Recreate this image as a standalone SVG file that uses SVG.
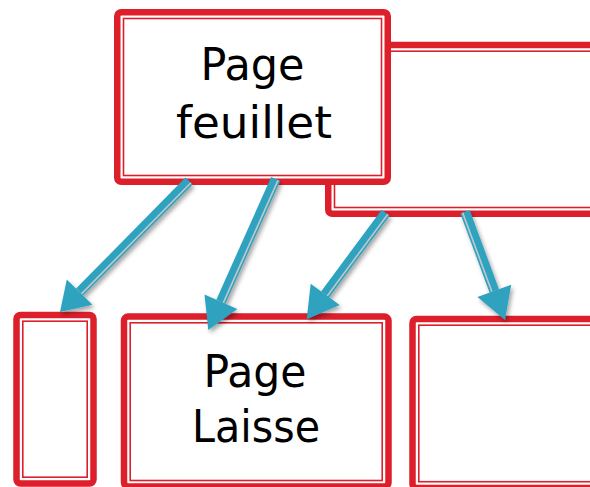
<svg xmlns="http://www.w3.org/2000/svg" width="590" height="487" viewBox="0 0 590 487">
<defs>
<style>
.outer{fill:#fff;stroke:#DC1F2B;stroke-width:6.5}
.inner{fill:none;stroke:#DC1F2B;stroke-width:1.6}
.shaft{stroke:#2DA2BF;stroke-width:10;fill:none}
.stripe{stroke:#C4C7C8;stroke-width:1.6;fill:none}
.head{fill:#2DA2BF}
.lbl{font-family:"DejaVu Sans","Liberation Sans",sans-serif;font-size:45px;fill:#000;text-anchor:middle}
</style>
<filter id="sh" x="-30%" y="-30%" width="160%" height="160%">
<feDropShadow dx="2" dy="3" stdDeviation="2" flood-color="#000" flood-opacity="0.35"/>
</filter>
</defs>
<rect width="590" height="487" fill="#fff"/>
<g id="node-back">
<rect class="outer" x="328.25" y="45" width="300" height="168.75" rx="4"/>
<rect class="inner" x="334.5" y="51.2" width="290" height="156.3"/>
</g>
<g id="node-feuillet">
<rect class="outer" x="117.25" y="12.25" width="270.5" height="169.5" rx="4"/>
<rect class="inner" x="123.5" y="18.5" width="258" height="157"/>
<text class="lbl" x="252.5" y="80" textLength="104" lengthAdjust="spacingAndGlyphs">Page</text>
<text class="lbl" x="254" y="138" textLength="156" lengthAdjust="spacingAndGlyphs">feuillet</text>
</g>
<g id="node-left">
<rect class="outer" x="16.5" y="315" width="77" height="168.5" rx="4"/>
<rect class="inner" x="22.8" y="321.2" width="64.4" height="156"/>
</g>
<g id="node-laisse">
<rect class="outer" x="124" y="316.6" width="264.5" height="170" rx="4"/>
<rect class="inner" x="130.2" y="322.8" width="252" height="157.7"/>
<text class="lbl" x="255" y="386.7" textLength="103" lengthAdjust="spacingAndGlyphs">Page</text>
<text class="lbl" x="256" y="441.7" textLength="128" lengthAdjust="spacingAndGlyphs">Laisse</text>
</g>
<g id="node-right">
<rect class="outer" x="412.5" y="319" width="300" height="169" rx="4"/>
<rect class="inner" x="418.8" y="325.2" width="290" height="156.5"/>
</g>
<g id="connectors" filter="url(#sh)">
<g id="arrow1">
<line class="shaft" x1="189" y1="181" x2="79.6" y2="292.1"/>
<line class="stripe" x1="190.9" y1="182.8" x2="81.5" y2="293.9"/>
<polygon class="head" points="60,312 92.4,304.7 66.8,279.5"/>
</g>
<g id="arrow2">
<line class="shaft" x1="275.7" y1="179" x2="220.9" y2="301.7"/>
<line class="stripe" x1="278.1" y1="180.1" x2="223.3" y2="302.8"/>
<polygon class="head" points="208.3,330 237.3,309 204.5,294.4"/>
</g>
<g id="arrow3">
<line class="shaft" x1="385.7" y1="212.7" x2="325.1" y2="294.4"/>
<line class="stripe" x1="387.8" y1="214.3" x2="327.2" y2="296"/>
<polygon class="head" points="306.7,319.3 339.6,305.1 310.7,283.7"/>
</g>
<g id="arrow4">
<line class="shaft" x1="465" y1="211.7" x2="494.3" y2="290.9"/>
<line class="stripe" x1="462.6" y1="212.6" x2="491.9" y2="291.8"/>
<polygon class="head" points="505,320 477.4,297.1 511.2,284.7"/>
</g>
</g>
</svg>
